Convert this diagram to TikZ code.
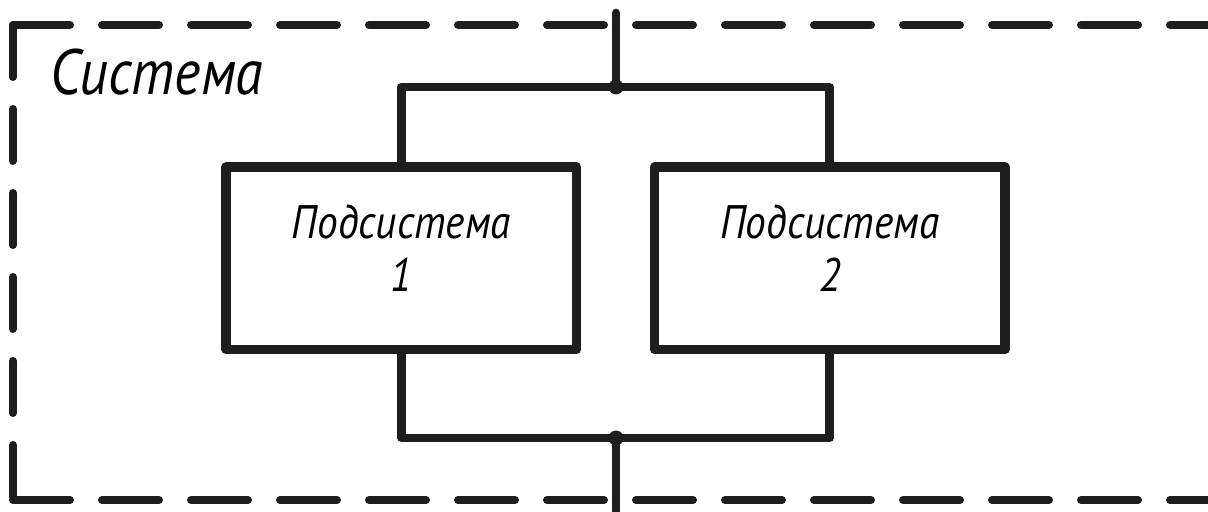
\documentclass[tikz,border=0pt]{standalone}
\usepackage{fontspec}
\usepackage{tikz}
\newfontfamily\gostfont[FakeStretch=0.88]{PT Sans}
\definecolor{inkgray}{HTML}{1E1E1E}
\tikzset{
  subsystem/.style={rectangle, draw=inkgray, line width=4.6pt, line join=round,
    minimum width=175.25pt, minimum height=91.25pt, align=center, text depth=10pt,
    font=\gostfont\itshape\fontsize{23.5}{26.5}\selectfont, inner sep=0pt},
  rail/.style={draw=inkgray, line width=4.4pt, line cap=round, line join=round},
  framedash/.style={draw=inkgray, line width=4pt, line cap=round,
    dash pattern=on 28.5pt off 16pt},
  framedashv/.style={framedash, dash pattern=on 26pt off 16pt},
}

\begin{document}
\begin{tikzpicture}[
    x=0.5pt, y=-0.5pt,
    junction/.style={circle, fill=inkgray, inner sep=0pt, minimum size=7.5pt},
    titletext/.style={anchor=base west, inner sep=0pt,
      font=\gostfont\itshape\fontsize{32}{38}\selectfont}
  ]
  \clip (0,0) rectangle (1208,512);

  % ============ Frame of the system (dashed, open to the right) ============
  \coordinate (frtl) at (13,25);
  \coordinate (frbl) at (13,500);
  \coordinate (frtr) at (1240,25);
  \coordinate (frbr) at (1240,500);
  \draw[framedash]  (frtl) -- (frtr);
  \draw[framedashv] (frtl) -- (frbl);
  \draw[framedash]  (frbl) -- (frbr);

  \node[titletext] (syslabel) at (50,95) {Система};

  % ============ Subsystems ============
  \node[subsystem] (sub1) at (401.25,258.25) {Подсистема\\1};
  \node[subsystem] (sub2) at (829.75,258.25) {Подсистема\\2};

  % ============ Parallel connection ============
  \coordinate (topin)  at (616,13);
  \coordinate (topj)   at (616,87);
  \coordinate (botj)   at (616,438);
  \coordinate (botout) at (616,530);

  \draw[rail] (sub1.north) |- (topj) -| (sub2.north);
  \draw[rail] (sub1.south) |- (botj) -| (sub2.south);
  \draw[rail] (topin) -- (topj);
  \draw[rail] (botj) -- (botout);

  \node[junction] (topdot) at (topj) {};
  \node[junction] (botdot) at (botj) {};

\end{tikzpicture}
\end{document}
